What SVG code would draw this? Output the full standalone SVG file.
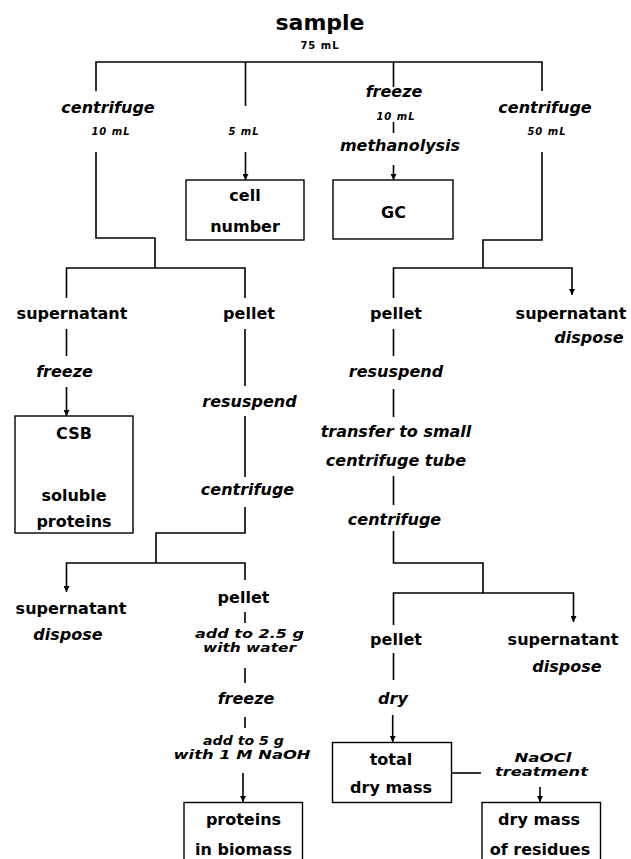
<svg xmlns="http://www.w3.org/2000/svg" width="631" height="859" viewBox="0 0 631 859">
<defs>
<marker id="ah" viewBox="0 0 8 8" refX="8" refY="4" markerWidth="7" markerHeight="6" orient="auto" markerUnits="userSpaceOnUse">
<path d="M0,0 L8,4 L0,8 z" fill="#000"/>
</marker>
<style>
text{font-family:"DejaVu Sans","Liberation Sans",sans-serif;font-weight:bold;fill:#000;text-anchor:middle}
.t{font-size:16px}
.i{font-size:16px;font-style:italic}
.c{font-size:12px;font-style:italic}
.s{font-size:10px;font-style:italic;letter-spacing:1px}
.big{font-size:22px}
.box{fill:#fff;stroke:#000;stroke-width:1.4}
#connectors path{fill:none;stroke:#000;stroke-width:1.6}
.arr{marker-end:url(#ah)}
</style>
</defs>
<rect width="631" height="859" fill="#fff"/>
<g id="connectors">
<path d="M96,91 V62 H542 V91 M245.5,62 V106 M393.5,62 V87"/>
<path d="M96,152 V238 H155 V268 M66.5,298 V268 H245 V298"/>
<path class="arr" d="M245.5,152 V180"/>
<path d="M393.5,122 V133"/>
<path class="arr" d="M393.5,165 V180"/>
<path d="M542,152 V240 H483 V268"/>
<path class="arr" d="M393.5,298 V268 H572 V295"/>
<path d="M66.5,329 V356"/>
<path class="arr" d="M66.5,387 V416"/>
<path d="M245,329 V386 M245,416 V477 M245,507 V533 H156 V563"/>
<path class="arr" d="M245,580 V563 H66.5 V592"/>
<path d="M245,612 V623 M245,668 V683 M245,717 V728"/>
<path class="arr" d="M243,773 V802"/>
<path d="M393.5,329 V356 M393.5,389 V417 M393.5,476 V505 M393.5,531 V563 H483 V593"/>
<path class="arr" d="M393.5,625 V593 H573.5 V622"/>
<path d="M393.5,653 V680"/>
<path class="arr" d="M392.7,715 V742"/>
<path d="M451.5,773 H481"/>
<path class="arr" d="M540,787 V802"/>
</g>
<g id="sample"><text class="big" x="320" y="30">sample</text><text class="t" x="320" y="49" style="font-size:10px;letter-spacing:1px">75 mL</text></g>
<g id="lbl-centrifuge-left"><text class="i" x="108" y="113">centrifuge</text><text class="s" x="111" y="135">10 mL</text></g>
<g id="lbl-5ml"><text class="s" x="244" y="135">5 mL</text></g>
<g id="lbl-freeze-top"><text class="i" x="394" y="97">freeze</text><text class="s" x="396" y="120">10 mL</text><text class="i" x="400" y="151">methanolysis</text></g>
<g id="lbl-centrifuge-right"><text class="i" x="545" y="113">centrifuge</text><text class="s" x="547" y="135">50 mL</text></g>
<g id="box-cell"><rect class="box" x="186" y="180" width="118" height="60"/><text class="t" x="245" y="201">cell</text><text class="t" x="245" y="232">number</text></g>
<g id="box-gc"><rect class="box" x="333" y="180" width="120" height="59"/><text class="t" x="393.5" y="218">GC</text></g>
<g id="n-supernatant-1"><text class="t" x="72" y="319">supernatant</text><text class="i" x="64.5" y="377">freeze</text></g>
<g id="box-csb"><rect class="box" x="15" y="416" width="118" height="117"/><text class="t" x="74" y="439">CSB</text><text class="t" x="74" y="501">soluble</text><text class="t" x="74" y="527">proteins</text></g>
<g id="n-pellet-1"><text class="t" x="249" y="319">pellet</text><text class="i" x="249.5" y="407">resuspend</text><text class="i" x="247.5" y="495">centrifuge</text></g>
<g id="n-pellet-2"><text class="t" x="396" y="319">pellet</text><text class="i" x="396" y="377">resuspend</text><text class="i" x="396" y="437">transfer to small</text><text class="i" x="396" y="466">centrifuge tube</text><text class="i" x="394.5" y="525">centrifuge</text></g>
<g id="n-supernatant-2"><text class="t" x="571" y="319">supernatant</text><text class="i" x="589" y="343">dispose</text></g>
<g id="n-supernatant-3"><text class="t" x="71" y="614">supernatant</text><text class="i" x="68" y="640">dispose</text></g>
<g id="n-pellet-3"><text class="t" x="243.5" y="603">pellet</text>
<text class="c" x="249.5" y="638" textLength="109" lengthAdjust="spacingAndGlyphs">add to 2.5 g</text>
<text class="c" x="249.5" y="652" textLength="93" lengthAdjust="spacingAndGlyphs">with water</text>
<text class="i" x="246" y="704">freeze</text>
<text class="c" x="243.5" y="745" textLength="81" lengthAdjust="spacingAndGlyphs">add to 5 g</text>
<text class="c" x="242" y="759" textLength="137" lengthAdjust="spacingAndGlyphs">with 1 M NaOH</text></g>
<g id="box-proteins"><rect class="box" x="184" y="802.5" width="118.5" height="70"/><text class="t" x="243.5" y="825">proteins</text><text class="t" x="243.5" y="855">in biomass</text></g>
<g id="n-pellet-4"><text class="t" x="396" y="645">pellet</text><text class="i" x="393" y="704">dry</text></g>
<g id="n-supernatant-4"><text class="t" x="563" y="645">supernatant</text><text class="i" x="567" y="672">dispose</text></g>
<g id="box-total"><rect class="box" x="332.5" y="742.5" width="119" height="60"/><text class="t" x="391" y="765">total</text><text class="t" x="391" y="793">dry mass</text></g>
<g id="lbl-naocl"><text class="c" x="543" y="762" textLength="57" lengthAdjust="spacingAndGlyphs">NaOCl</text><text class="c" x="541.5" y="776" textLength="93" lengthAdjust="spacingAndGlyphs">treatment</text></g>
<g id="box-residues"><rect class="box" x="482" y="802.5" width="118.5" height="70"/><text class="t" x="539" y="825">dry mass</text><text class="t" x="540" y="855">of residues</text></g>
</svg>
